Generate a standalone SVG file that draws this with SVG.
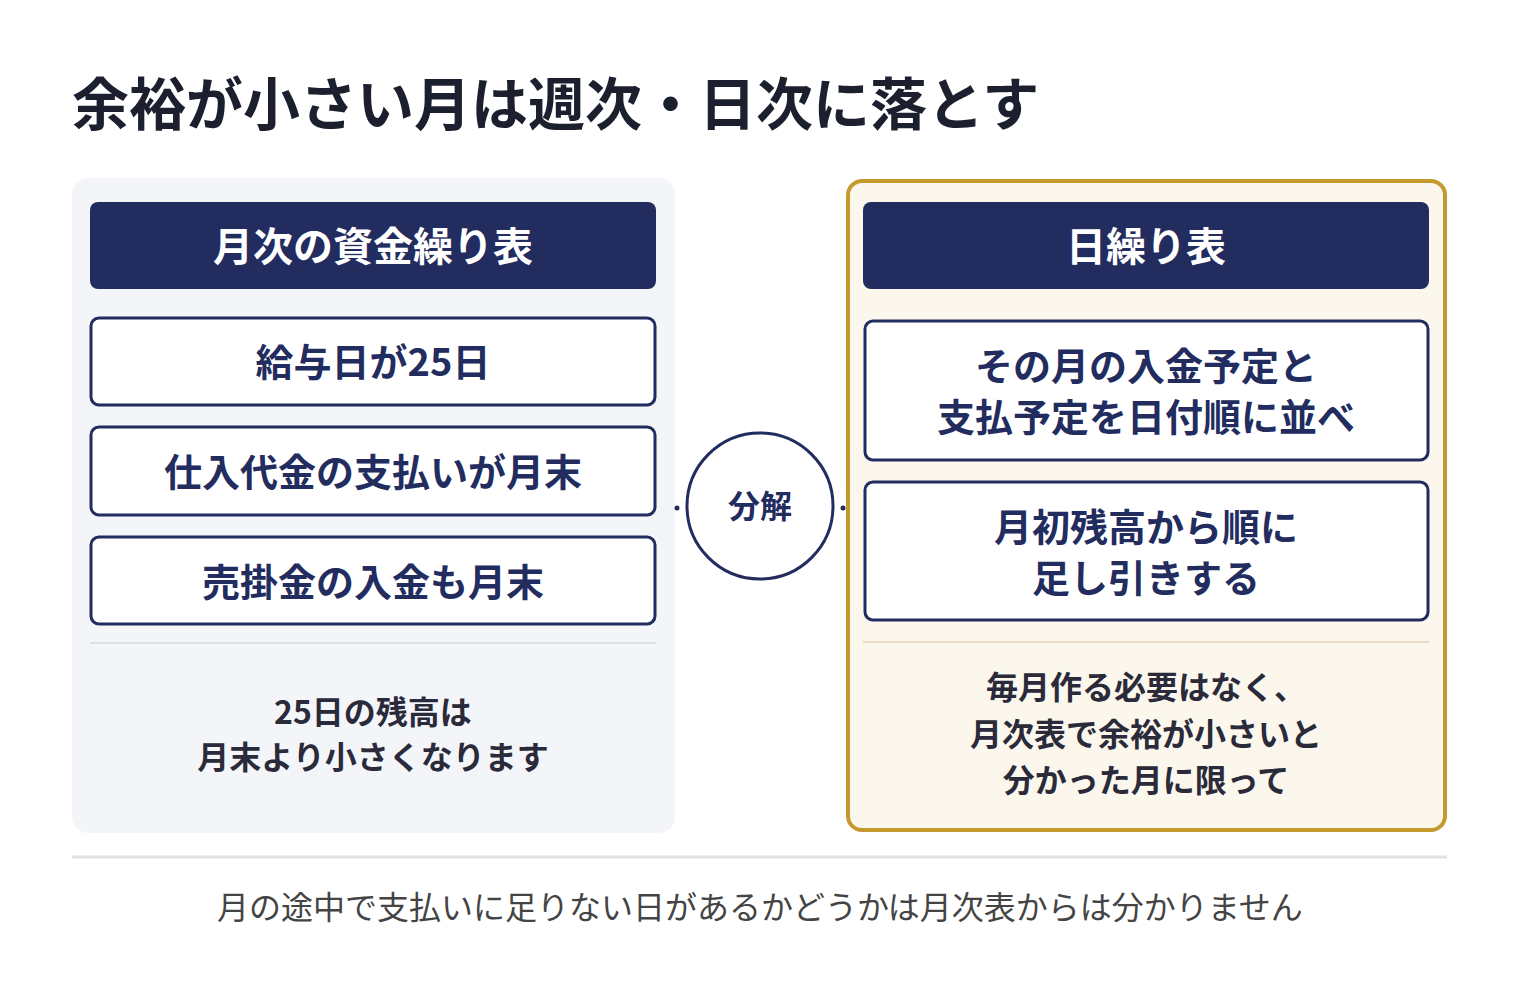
<svg xmlns="http://www.w3.org/2000/svg" width="1520" height="984" viewBox="0 0 1520 984">
<style>
text{font-family:"Noto Sans CJK JP","Noto Sans",sans-serif;font-weight:700;text-anchor:middle}
.hd{fill:#222c5e}
.bx{fill:#fff;stroke:#222c5e;stroke-width:3}
.ht{fill:#fff;font-size:40px}
.bt{fill:#222c5e;font-size:38px}
.nt{fill:#2a2a3a;font-size:32px}
</style>
<rect width="1520" height="984" fill="#fff"/>
<text x="72" y="125" style="text-anchor:start;font-size:57px;fill:#1c1f2e">余裕が小さい月は週次・日次に落とす</text>
<g id="left">
<rect x="72" y="178" width="603" height="655" rx="16" fill="#f3f5f9"/>
<rect class="hd" x="90" y="202" width="566" height="87" rx="8"/>
<text class="ht" x="373" y="261">月次の資金繰り表</text>
<rect class="bx" x="91" y="318" width="564" height="87" rx="8"/>
<text class="bt" x="373" y="376">給与日が25日</text>
<rect class="bx" x="91" y="427" width="564" height="88" rx="8"/>
<text class="bt" x="373" y="486">仕入代金の支払いが月末</text>
<rect class="bx" x="91" y="537" width="564" height="87" rx="8"/>
<text class="bt" x="373" y="596">売掛金の入金も月末</text>
<line x1="90" y1="643" x2="656" y2="643" stroke="#dde0e6" stroke-width="2"/>
<text class="nt" x="373" y="724">25日の残高は</text>
<text class="nt" x="373" y="769">月末より小さくなります</text>
</g>
<g id="right">
<rect x="848" y="181" width="597" height="649" rx="14" fill="#fbf7ec" stroke="#c49a2e" stroke-width="4"/>
<rect class="hd" x="863" y="202" width="566" height="87" rx="8"/>
<text class="ht" x="1146" y="261">日繰り表</text>
<rect class="bx" x="865" y="321" width="563" height="139" rx="8"/>
<text class="bt" x="1146" y="380">その月の入金予定と</text>
<text class="bt" x="1146" y="431">支払予定を日付順に並べ</text>
<rect class="bx" x="865" y="482" width="563" height="138" rx="8"/>
<text class="bt" x="1146" y="541">月初残高から順に</text>
<text class="bt" x="1146" y="592">足し引きする</text>
<line x1="863" y1="642" x2="1429" y2="642" stroke="#e8dcc0" stroke-width="2"/>
<text class="nt" x="1146" y="699">毎月作る必要はなく、</text>
<text class="nt" x="1146" y="746">月次表で余裕が小さいと</text>
<text class="nt" x="1146" y="792">分かった月に限って</text>
</g>
<g id="connectors" fill="#222c5e">
<circle cx="677" cy="508" r="2.5"/>
<circle cx="843" cy="508" r="2.5"/>
</g>
<g id="decompose">
<circle cx="760" cy="506" r="73" fill="#fff" stroke="#222c5e" stroke-width="3"/>
<text x="760" y="518" style="fill:#222c5e;font-size:32px">分解</text>
</g>
<line x1="72" y1="857" x2="1447" y2="857" stroke="#e2e2e2" stroke-width="3"/>
<text x="760" y="919" style="font-weight:400;font-size:32px;fill:#444">月の途中で支払いに足りない日があるかどうかは月次表からは分かりません</text>
</svg>
